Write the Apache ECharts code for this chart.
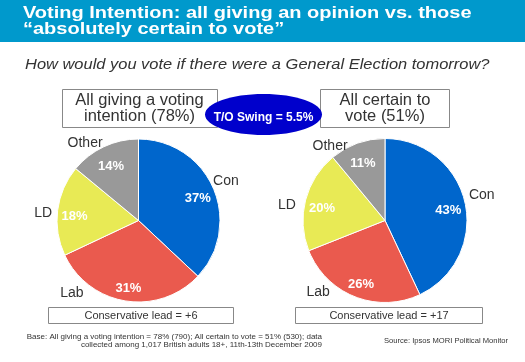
<!DOCTYPE html>
<html><head><meta charset="utf-8">
<script src="https://cdn.jsdelivr.net/npm/echarts@6/dist/echarts.min.js"></script>
<style>html,body{margin:0;padding:0;background:#fff}#c{width:525px;height:362px}</style>
</head><body><div id="c"></div>
<script>
const parties = ['Con', 'Lab', 'LD', 'Other'];
const allGiving = [37, 31, 18, 14];
const certainToVote = [43, 26, 20, 11];
const partyColors = ['#0066cc', '#ea5a4e', '#e8ea55', '#999999'];
const titleLine1 = 'Voting Intention: all giving an opinion vs. those';
const titleLine2 = '\u201cabsolutely certain to vote\u201d';
const subtitleText = 'How would you vote if there were a General Election tomorrow?';
const leftHeading = 'All giving a voting\nintention (78%)';
const rightHeading = 'All certain to\nvote (51%)';
const swingText = 'T/O Swing = 5.5%';
const leftLead = 'Conservative lead = +6';
const rightLead = 'Conservative lead = +17';
const baseText = 'Base: All giving a voting intention = 78% (790); All certain to vote = 51% (530); data\ncollected among 1,017 British adults 18+, 11th-13th December 2009';
const sourceText = 'Source: Ipsos MORI Political Monitor';

const FONT = '"Liberation Sans", Arial, sans-serif';
const chart = echarts.init(document.getElementById('c'), null, {renderer: 'canvas'});

// per-label nudges for the party-name labels (layout only)
const leftNameShift = [[-4, 0], [-51, -26], [3.5, 5], [-11, 13]];
const rightNameShift = [[-1, -4], [-30, -21], [-1, 10], [-21, 20]];

function pieSeries(values, center, r, nameShift) {
  const data = parties.map((p, i) => ({name: p, value: values[i], itemStyle: {color: partyColors[i]}}));
  const ghost = parties.map((p, i) => ({name: p, value: values[i]}));
  const common = {type: 'pie', center: center, startAngle: 90, clockwise: true, animation: false,
    emphasis: {disabled: true}, avoidLabelOverlap: false, labelLine: {show: false}};
  return [
    Object.assign({}, common, {radius: [0, r], data: data, silent: true,
      itemStyle: {borderColor: '#ffffff', borderWidth: 1}, label: {show: false}}),
    Object.assign({}, common, {radius: [r * 0.51, r], data: ghost, silent: true, z: 3,
      itemStyle: {color: 'rgba(0,0,0,0)', borderWidth: 0},
      label: {show: true, position: 'inside', formatter: '{c}%', color: '#ffffff',
        fontFamily: FONT, fontWeight: 'bold', fontSize: 13},
      labelLayout: () => ({dy: 4})}),
    Object.assign({}, common, {radius: [r, r * 1.37], data: ghost, silent: true, z: 3,
      itemStyle: {color: 'rgba(0,0,0,0)', borderWidth: 0},
      label: {show: true, position: 'inside', formatter: '{b}', color: '#333333',
        fontFamily: FONT, fontSize: 14},
      labelLayout: p => ({dx: nameShift[p.dataIndex][0], dy: nameShift[p.dataIndex][1]})})
  ];
}

const option = {
  backgroundColor: '#ffffff',
  animation: false,
  graphic: [
    {type: 'rect', shape: {x: 0, y: 0, width: 525, height: 42}, style: {fill: '#0099cc'}, z: -1},
    {type: 'text', x: 23, y: 13.5, scaleX: 1.25, style: {text: titleLine1, fill: '#ffffff', font: 'bold 16px ' + FONT, align: 'left', verticalAlign: 'middle'}, z: 2},
    {type: 'text', x: 23, y: 29.5, scaleX: 1.25, style: {text: titleLine2, fill: '#ffffff', font: 'bold 16px ' + FONT, align: 'left', verticalAlign: 'middle'}, z: 2},
    {type: 'text', x: 25, y: 65.5, scaleX: 1.175, style: {text: subtitleText, fill: '#333333', font: 'italic 14px ' + FONT, align: 'left', verticalAlign: 'middle'}, z: 2},
    {type: 'rect', shape: {x: 62.5, y: 89.5, width: 155, height: 38}, style: {fill: '#fff', stroke: '#888888', lineWidth: 1}, z: 1},
    {type: 'text', x: 139.5, y: 108.5, style: {text: leftHeading, fill: '#333333', font: '16.5px ' + FONT, align: 'center', verticalAlign: 'middle', lineHeight: 16}, z: 2},
    {type: 'rect', shape: {x: 320.5, y: 89.5, width: 129, height: 38}, style: {fill: '#fff', stroke: '#888888', lineWidth: 1}, z: 1},
    {type: 'text', x: 385, y: 108.5, style: {text: rightHeading, fill: '#333333', font: '16.5px ' + FONT, align: 'center', verticalAlign: 'middle', lineHeight: 16}, z: 2},
    {type: 'ellipse', shape: {cx: 263.5, cy: 114.5, rx: 58.5, ry: 20.5}, style: {fill: '#0000cc'}, z: 5},
    {type: 'text', x: 263.5, y: 118, style: {text: swingText, fill: '#ffffff', font: 'bold 12px ' + FONT, align: 'center', verticalAlign: 'middle'}, z: 6},
    {type: 'rect', shape: {x: 48.5, y: 307.5, width: 185, height: 16}, style: {fill: '#fff', stroke: '#888888', lineWidth: 1}, z: 1},
    {type: 'text', x: 141, y: 315.5, style: {text: leftLead, fill: '#333333', font: '11px ' + FONT, align: 'center', verticalAlign: 'middle'}, z: 2},
    {type: 'rect', shape: {x: 295.5, y: 307.5, width: 187, height: 16}, style: {fill: '#fff', stroke: '#888888', lineWidth: 1}, z: 1},
    {type: 'text', x: 389, y: 315.5, style: {text: rightLead, fill: '#333333', font: '11px ' + FONT, align: 'center', verticalAlign: 'middle'}, z: 2},
    {type: 'text', x: 322, y: 341, style: {text: baseText, fill: '#333333', font: '8px ' + FONT, align: 'right', verticalAlign: 'middle', lineHeight: 8.5}, z: 2},
    {type: 'text', x: 508, y: 341, style: {text: sourceText, fill: '#333333', font: '7.6px ' + FONT, align: 'right', verticalAlign: 'middle'}, z: 2}
  ],
  series: [].concat(
    pieSeries(allGiving, [138.5, 220.5], 81.5, leftNameShift),
    pieSeries(certainToVote, [385, 220.5], 82, rightNameShift)
  )
};
chart.setOption(option);
</script></body></html>
